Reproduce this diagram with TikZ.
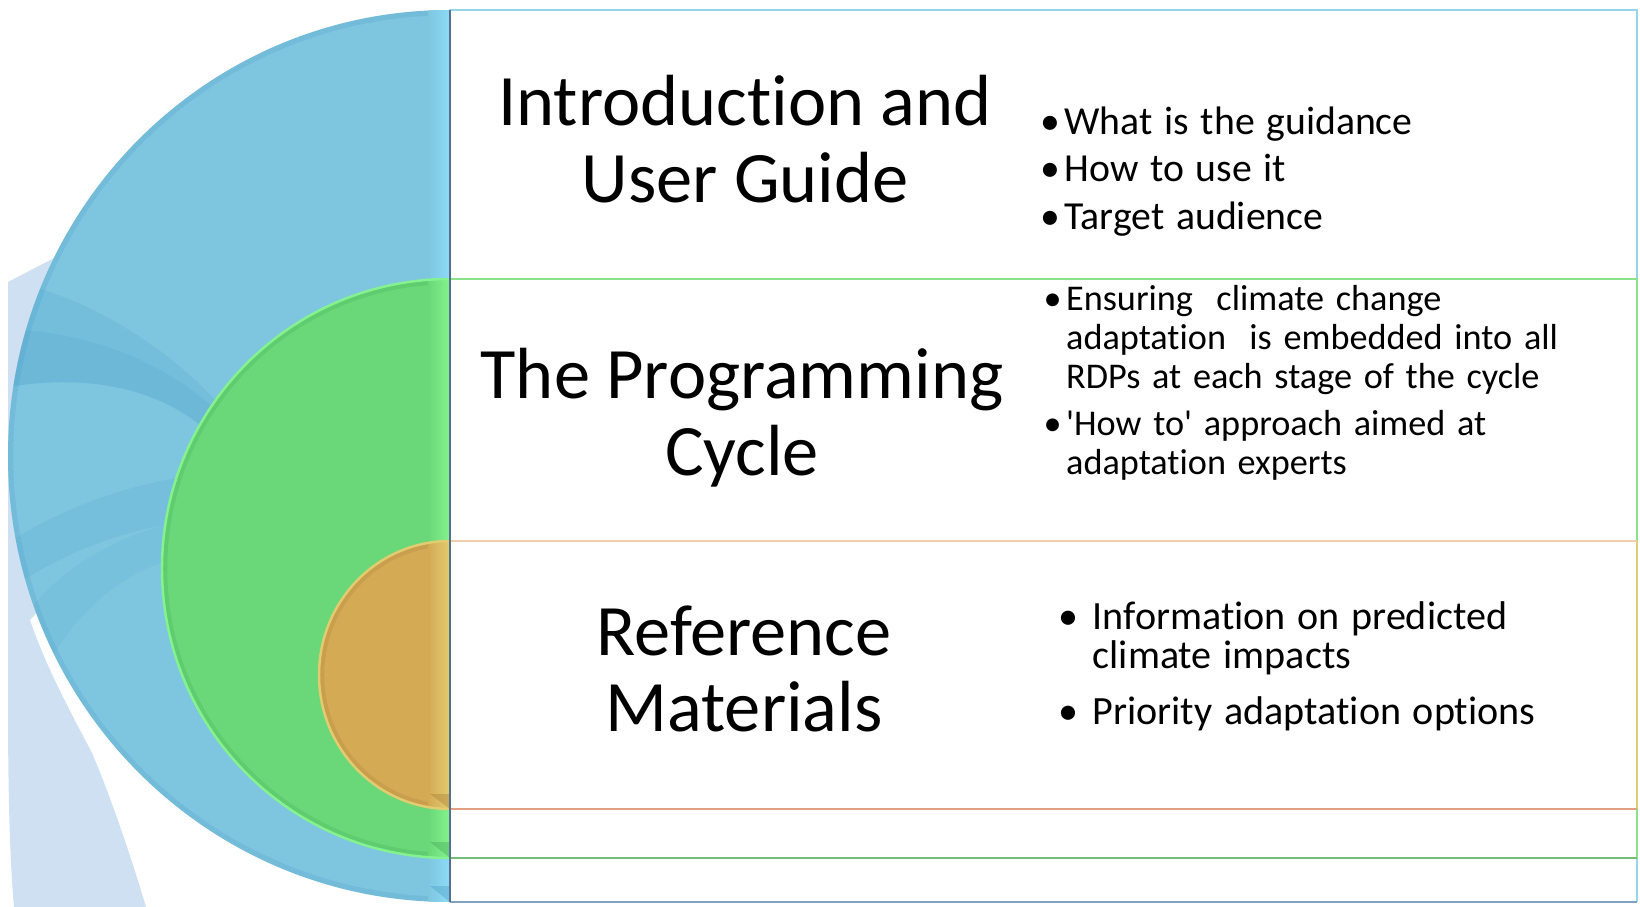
\documentclass[tikz,border=0pt]{standalone}
\usepackage{fontspec}
\setmainfont{Carlito}[Ligatures={TeXOff,NoCommon}]
\definecolor{bluefill}{RGB}{126,198,224}
\definecolor{bluelight}{RGB}{142,218,246}
\definecolor{bluedark}{RGB}{70,150,195}
\definecolor{greenfill}{RGB}{106,216,120}
\definecolor{greenlight}{RGB}{132,242,142}
\definecolor{greendark}{RGB}{60,160,80}
\definecolor{orangefill}{RGB}{212,170,85}
\definecolor{orangelight}{RGB}{226,204,112}
\definecolor{orangedark}{RGB}{160,115,50}
\definecolor{pale}{RGB}{206,224,242}
\definecolor{topline}{RGB}{150,212,232}
\definecolor{divline}{RGB}{85,112,142}
\definecolor{gline}{RGB}{140,226,140}
\definecolor{gbottom}{RGB}{118,190,118}
\definecolor{oline}{RGB}{242,204,176}
\definecolor{obottom}{RGB}{226,160,130}
\definecolor{bbottom}{RGB}{130,160,192}
\newlength\bulind
% one bullet paragraph; following lines hang under the text
\newcommand\bitem{\par\noindent\hangindent=\bulind\hangafter=1\makebox[\bulind][l]{\textbullet}}
\begin{document}
\begin{tikzpicture}[x=0.01cm,y=-0.01cm,
  title/.style={align=center,inner sep=0pt,font=\fontsize{20.6}{21.8}\selectfont},
  bullets/.style={anchor=north west,inner sep=0pt,text width=5.8cm},
  panel/.style={line width=0.7pt},
  rim/.style={line width=3pt,opacity=0.2}]
\useasboundingbox (0,0) rectangle (1640,907);
\fill[white] (0,0) rectangle (1640,907);

% pale swirl behind the rings
\fill[pale] (8,282) -- (60,255) -- (160,480) -- (30,620)
  .. controls (45,665) and (72,715) .. (92,753)
  .. controls (112,800) and (132,860) .. (146,907)
  -- (14,907) .. controls (10,860) and (8,800) .. (8,700) -- cycle;

% outer blue half ring
\begin{scope}
  \clip (0,0) rectangle (450,907);
  \fill[bluefill] (450,456) ellipse [x radius=442,y radius=446];
  \begin{scope}
    \clip (450,456) ellipse [x radius=442,y radius=446];
    % swirl bands seen through the blue
    \fill[bluedark,opacity=0.16] (8,282) .. controls (60,288) and (150,330) .. (215,400)
      -- (200,425) .. controls (150,385) and (80,375) .. (8,387) -- cycle;
    \fill[bluedark,opacity=0.14] (8,330) .. controls (80,330) and (160,360) .. (210,405)
      -- (200,425) .. controls (150,385) and (80,375) .. (8,387) -- cycle;
    \fill[bluedark,opacity=0.13] (8,543) .. controls (50,515) and (110,490) .. (175,478)
      -- (165,525) .. controls (110,535) and (60,555) .. (8,590) -- cycle;
    \fill[bluedark,opacity=0.10] (30,610) .. controls (60,570) and (110,540) .. (165,525)
      -- (170,560) .. controls (120,575) and (80,610) .. (50,660) -- cycle;
    \draw[bluedark,rim] (450,456) ellipse [x radius=442,y radius=446];
    \shade[left color=bluefill,right color=bluelight] (428,0) rectangle (450,907);
    \fill[bluedark,opacity=0.35] (430,886) -- (450,902) -- (450,886) -- cycle;
  \end{scope}
\end{scope}

% middle green half ring
\begin{scope}
  \clip (0,0) rectangle (450,907);
  \fill[greenfill] (450,568.5) ellipse [x radius=288,y radius=289.5];
  \begin{scope}
    \clip (450,568.5) ellipse [x radius=288,y radius=289.5];
    \draw[greendark,rim] (450,568.5) ellipse [x radius=288,y radius=289.5];
    \shade[left color=greenfill,right color=greenlight] (428,0) rectangle (450,907);
    \fill[greendark,opacity=0.35] (430,842) -- (450,858) -- (450,842) -- cycle;
  \end{scope}
  \draw[greenlight,line width=0.7pt] (450,568.5) ellipse [x radius=288,y radius=289.5];
\end{scope}

% inner orange half ring
\begin{scope}
  \clip (0,0) rectangle (450,907);
  \fill[orangefill] (450,675) ellipse [x radius=131,y radius=134];
  \begin{scope}
    \clip (450,675) ellipse [x radius=131,y radius=134];
    \draw[orangedark,rim] (450,675) ellipse [x radius=131,y radius=134];
    \shade[left color=orangefill,right color=orangelight] (428,0) rectangle (450,907);
    \fill[orangedark,opacity=0.35] (430,794) -- (450,809) -- (450,794) -- cycle;
  \end{scope}
  \draw[orangelight,line width=0.7pt] (450,675) ellipse [x radius=131,y radius=134];
\end{scope}

% text panels
\draw[panel,topline] (450,10) -- (1637,10) -- (1637,902);
\draw[panel,bbottom] (450,902) -- (1637,902);
\draw[panel,gline] (450,279) -- (1637,279) -- (1637,858);
\draw[panel,gbottom] (450,858) -- (1637,858);
\draw[panel,oline] (450,541) -- (1637,541);
\draw[panel,orangelight] (1637,541) -- (1637,809);
\draw[panel,obottom] (450,809) -- (1637,809);
\draw[panel,divline,line width=0.8pt] (450,10) -- (450,902);

% section titles
\node[title] (t1) at (745,139) {Introduction and\\User Guide};
\node[title] (t2) at (742,418) {The Programming\\Cycle};
\node[title] (t3) at (744,669) {Reference\\Materials};

% bullet lists
\node[bullets] (b1) at (1040,86) {\fontsize{11.3}{12.2}\selectfont\raggedright
  \setlength\bulind{0.6em}\setlength\parskip{1.3pt}%
  \bitem What is the guidance
  \bitem How to use it
  \bitem Target audience\par};
\node[bullets] (b2) at (1043,263) {\fontsize{10.3}{11.2}\selectfont\raggedright
  \setlength\bulind{0.62em}\setlength\parskip{2pt}%
  \bitem Ensuring\ \ climate change\newline adaptation\ \ is embedded into all\newline RDPs at each stage of the cycle
  \bitem 'How to' approach aimed at\newline adaptation experts\par};
\node[bullets] (b3) at (1058,573) {\fontsize{11.4}{11.0}\selectfont\raggedright
  \setlength\bulind{0.85em}\setlength\parskip{4.9pt}%
  \bitem Information on predicted\newline climate impacts
  \bitem Priority adaptation options\par};
\end{tikzpicture}
\end{document}
